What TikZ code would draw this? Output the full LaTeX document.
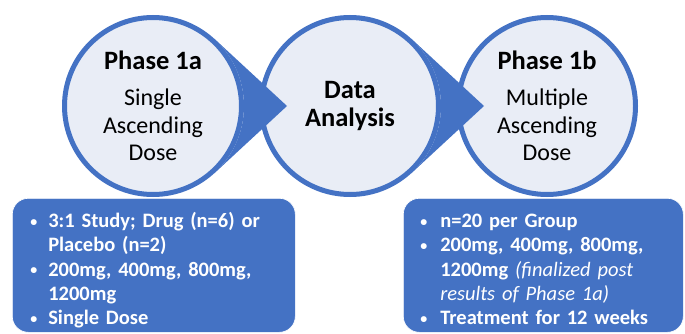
\documentclass[tikz,border=0pt]{standalone}
\usepackage{fontspec}
\setmainfont{Carlito}
\usetikzlibrary{calc}
\definecolor{phblue}{HTML}{4472C4}
\definecolor{phlight}{HTML}{E9EDF6}
\newcommand{\bpoint}{\raisebox{1.5pt}{\fontsize{14}{14}\selectfont\textbullet}}
\newcommand{\phtitle}[1]{{\fontsize{26.5}{27}\selectfont\bfseries #1}}
\newcommand{\lowered}[1]{\raisebox{-6pt}[\height][\depth]{#1}}
\tikzset{
  phase/.style={circle, draw=phblue, line width=5pt, fill=phlight,
    minimum size=177pt, inner sep=0pt, align=center,
    font=\fontsize{24}{27.5}\selectfont},
  infobox/.style={rectangle, rounded corners=16pt, fill=phblue, draw=white,
    line width=0.6pt, minimum height=134pt, text width=271pt, inner xsep=6pt,
    anchor=north west, align=left, text=white,
    font=\fontsize{20.5}{24.3}\selectfont\bfseries},
  pointer/.style={fill=phblue}
}
\begin{document}
\begin{tikzpicture}[x=1pt, y=1pt]
  \useasboundingbox (0,0) rectangle (685,333);
  % the three stages
  \node[phase] (p1a) at (153,227) {\phtitle{Phase 1a}\\[9pt]Single\\Ascending\\Dose};
  \node[phase] (data) at (350,227) {\phtitle{Data}\\[1pt]\phtitle{Analysis}};
  \node[phase] (p1b) at (547,227) {\phtitle{Phase 1b}\\[9pt]Multiple\\Ascending\\Dose};
  % pointers between them
  \fill[pointer] ([xshift=134pt]p1a.center) -- ($(p1a.center)+(47:91pt)$)
    arc[start angle=47, end angle=-47, radius=91pt] -- cycle;
  \fill[pointer] ([xshift=134pt]data.center) -- ($(data.center)+(47:91pt)$)
    arc[start angle=47, end angle=-47, radius=91pt] -- cycle;
  % details below
  \node[infobox] (box1a) at (12,135) {\lowered{%
    \begin{tabular}{@{\hspace{12pt}}p{18pt}@{}l@{}}
      \bpoint & 3:1 Study; Drug (n=6) or\\
              & Placebo (n=2)\\
      \bpoint & 200mg, 400mg, 800mg,\\
              & 1200mg\\
      \bpoint & Single Dose
    \end{tabular}}};
  \node[infobox, text width=268pt] (box1b) at (403,135) {\lowered{%
    \begin{tabular}{@{\hspace{11pt}}p{20pt}@{}l@{}}
      \bpoint & n=20 per Group\\
      \bpoint & 200mg, 400mg, 800mg,\\
              & 1200mg {\mdseries\itshape (finalized post}\\
              & {\mdseries\itshape results of Phase 1a)}\\
      \bpoint & Treatment for 12 weeks
    \end{tabular}}};
\end{tikzpicture}
\end{document}
